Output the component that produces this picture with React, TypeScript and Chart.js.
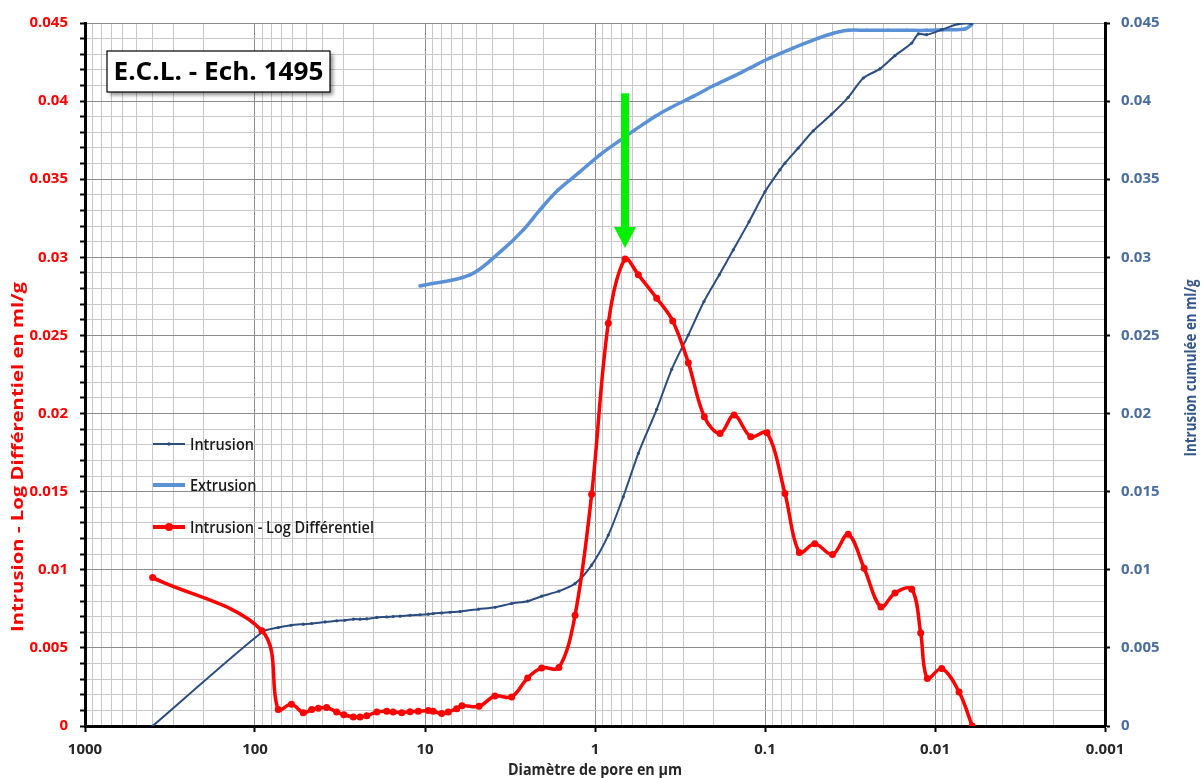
import React, { useEffect, useRef } from 'react';
import { Chart, registerables } from 'chart.js';
Chart.register(...registerables);

// ---------- DATA ----------
const X_DECADES = [1000, 100, 10, 1, 0.1, 0.01, 0.001];
const X_TICK_LABELS = ['1000', '100', '10', '1', '0.1', '0.01', '0.001'];
const Y_MIN = 0;
const Y_MAX = 0.045;
const Y_STEP = 0.001;
const Y_MAJOR_STEP = 0.005;

// Intrusion - Log Différentiel (left axis)
const RED_X = [400, 91, 73, 61, 52, 46.4, 42.4, 37.9, 33.1, 30.0, 26.4, 24.1, 22.0, 19.2, 16.8, 15.4, 13.7, 12.25, 10.95, 9.56, 8.94, 7.98, 7.3, 6.51, 6.06, 4.81, 3.88, 3.09, 2.49, 2.06, 1.63, 1.31, 1.046, 0.835, 0.666, 0.556, 0.4335, 0.349, 0.2826, 0.2275, 0.184, 0.152, 0.1213, 0.0973, 0.0763, 0.0628, 0.051, 0.0401, 0.0324, 0.0261, 0.0208, 0.0172, 0.0137, 0.01214, 0.0111, 0.00913, 0.00722, 0.00604];
const RED_Y = [0.0095, 0.0061, 0.00105, 0.0014, 0.00085, 0.00105, 0.00114, 0.00118, 0.0009, 0.00072, 0.00058, 0.00058, 0.00065, 0.0009, 0.00094, 0.0009, 0.00085, 0.00092, 0.00094, 0.00099, 0.00094, 0.0008, 0.0009, 0.00111, 0.0013, 0.00126, 0.00192, 0.00186, 0.00308, 0.00372, 0.00374, 0.00709, 0.01483, 0.02578, 0.0299, 0.02888, 0.02738, 0.02593, 0.02326, 0.0198, 0.01873, 0.0199, 0.01852, 0.01877, 0.01489, 0.0111, 0.01166, 0.01098, 0.01227, 0.0101, 0.00762, 0.00852, 0.00876, 0.00596, 0.00304, 0.00368, 0.00218, 0];

// Intrusion (cumulée, right axis)
const INTR_X = [400, 90.6, 72.9, 61.4, 52.0, 46.4, 38.7, 33.1, 29.6, 26.4, 24.1, 22.0, 19.2, 16.8, 15.4, 14.0, 12.25, 10.7, 9.56, 8.94, 7.98, 7.13, 6.22, 4.84, 3.87, 3.09, 2.49, 2.06, 1.63, 1.31, 1.046, 0.835, 0.682, 0.556, 0.4335, 0.354, 0.2826, 0.2286, 0.1857, 0.1536, 0.1242, 0.1, 0.0817, 0.0763, 0.0637, 0.052, 0.0405, 0.0324, 0.0264, 0.0211, 0.0172, 0.0137, 0.01253, 0.0112, 0.00913, 0.0073, 0.00608];
const INTR_Y = [0, 0.00602, 0.0063, 0.00645, 0.00652, 0.00656, 0.00666, 0.00673, 0.00677, 0.00684, 0.00684, 0.00686, 0.00695, 0.00698, 0.00701, 0.00703, 0.00709, 0.00712, 0.00716, 0.0072, 0.00724, 0.00728, 0.00733, 0.00748, 0.0076, 0.00784, 0.00799, 0.00831, 0.00863, 0.00912, 0.0103, 0.01222, 0.01467, 0.01745, 0.02027, 0.02283, 0.02503, 0.02717, 0.02888, 0.03048, 0.03227, 0.0342, 0.0356, 0.03603, 0.037, 0.0381, 0.03917, 0.04024, 0.04148, 0.04206, 0.04291, 0.04372, 0.0443, 0.04425, 0.04457, 0.04494, 0.04496];

// Extrusion (right axis)
const EXTR_X = [10.7, 5.43, 3.54, 2.64, 2.107, 1.644, 1.253, 0.935, 0.7296, 0.582, 0.4435, 0.362, 0.264, 0.2013, 0.1536, 0.1225, 0.0935, 0.0682, 0.0544, 0.0424, 0.0324, 0.0252, 0.01884, 0.01467, 0.0112, 0.00894, 0.00667, 0.00608];
const EXTR_Y = [0.02817, 0.02888, 0.03043, 0.03176, 0.03304, 0.03432, 0.03539, 0.03656, 0.03741, 0.03816, 0.03902, 0.03956, 0.0403, 0.04098, 0.04158, 0.04212, 0.04276, 0.0434, 0.04382, 0.04425, 0.04453, 0.04453, 0.04453, 0.04453, 0.04453, 0.04457, 0.04462, 0.0449];

const SERIES_NAMES = ['Intrusion', 'Extrusion', 'Intrusion - Log Différentiel'];
const CHART_TITLE = 'E.C.L. - Ech. 1495';
const X_TITLE = 'Diamètre de pore en µm';
const Y_LEFT_TITLE = 'Intrusion - Log Différentiel en ml/g';
const Y_RIGHT_TITLE = 'Intrusion cumulée en ml/g';
// green arrow pointing to the peak (x value, y from, y to)
const ARROW_X = 0.666;
const ARROW_Y_FROM = 0.0405;
const ARROW_Y_TO = 0.0306;

// ---------- STYLE ----------
const FONT = "'Open Sans', 'Liberation Sans', sans-serif";
const RED = '#FF0000';
const INTR_COLOR = '#2B4C80';
const EXTR_COLOR = '#5A91D6';
const RIGHT_COLOR = '#4A6D9F';
const GRID_MAJOR = '#8C8C8C';
const GRID_MINOR = '#C8C8C8';

const zip = (xs: number[], ys: number[]) => xs.map((x, i) => ({ x, y: ys[i] }));
const isDecade = (v: number) => { const l = Math.log10(v); return Math.abs(l - Math.round(l)) < 1e-6; };
const isYMajor = (v: number) => Math.abs(v / Y_MAJOR_STEP - Math.round(v / Y_MAJOR_STEP)) < 1e-6;

function xTickValues() {
  const vals: number[] = [];
  for (let i = X_DECADES.length - 1; i >= 1; i--) {
    const d = X_DECADES[i];
    for (let m = 1; m <= 9; m++) vals.push(parseFloat((m * d).toPrecision(4)));
  }
  vals.push(X_DECADES[0]);
  return vals;
}
function yTickValues() {
  const vals: number[] = [];
  const n = Math.round((Y_MAX - Y_MIN) / Y_STEP);
  for (let i = 0; i <= n; i++) vals.push(parseFloat((Y_MIN + i * Y_STEP).toFixed(4)));
  return vals;
}

// draw text at a given size, horizontally scaled to a target length (Calibri-like narrow look)
function drawText(
  ctx: CanvasRenderingContext2D, text: string, x: number, y: number,
  size: number, weight: string, color: string, target: number,
  align: CanvasTextAlign = 'center', rot = 0, scaleOverride?: number,
) {
  ctx.save();
  ctx.translate(x, y);
  if (rot) ctx.rotate(rot);
  ctx.font = `${weight} ${size}px ${FONT}`;
  const w = ctx.measureText(text).width;
  const sx = scaleOverride ?? target / w;
  ctx.scale(sx, 1);
  ctx.fillStyle = color;
  ctx.textAlign = align;
  ctx.textBaseline = 'middle';
  ctx.fillText(text, 0, 0);
  ctx.restore();
}

const decorPlugin = {
  id: 'decor',
  afterDatasetsDraw(chart: any) {
    const { ctx, chartArea: ca, scales } = chart;
    // green arrow
    const ax = scales.x.getPixelForValue(ARROW_X);
    const ay0 = scales.y.getPixelForValue(ARROW_Y_FROM);
    const ay1 = scales.y.getPixelForValue(ARROW_Y_TO);
    ctx.save();
    ctx.fillStyle = '#00F000';
    const headLen = 21, headW = 11, shaftW = 4;
    ctx.fillRect(ax - shaftW, ay0, shaftW * 2, ay1 - ay0 - headLen + 1);
    ctx.beginPath();
    ctx.moveTo(ax - headW, ay1 - headLen);
    ctx.lineTo(ax + headW, ay1 - headLen);
    ctx.lineTo(ax, ay1);
    ctx.closePath();
    ctx.fill();
    ctx.restore();

    // legend (inside plot)
    const lx0 = ca.left + 68, lx1 = ca.left + 100, tx = ca.left + 105;
    const rows = [ca.top + 421, ca.top + 462, ca.top + 504];
    const styles = [
      { color: INTR_COLOR, w: 2, r: 1.8 },
      { color: EXTR_COLOR, w: 4, r: 2 },
      { color: RED, w: 4, r: 4 },
    ];
    ctx.save();
    ctx.font = `600 16px ${FONT}`;
    const legScale = 184 / ctx.measureText(SERIES_NAMES[2]).width;
    ctx.restore();
    ctx.save();
    styles.forEach((s, i) => {
      const y = rows[i];
      ctx.strokeStyle = s.color;
      ctx.lineWidth = s.w;
      ctx.beginPath();
      ctx.moveTo(lx0, y);
      ctx.lineTo(lx1, y);
      ctx.stroke();
      ctx.fillStyle = s.color;
      ctx.beginPath();
      ctx.arc((lx0 + lx1) / 2, y, s.r, 0, Math.PI * 2);
      ctx.fill();
      drawText(ctx, SERIES_NAMES[i], tx, y + 1, 16, '600', '#1A1A1A', 0, 'left', 0, legScale);
    });
    ctx.restore();

    // title box
    const bx = ca.left + 22, by = ca.top + 28, bw = 223, bh = 41;
    ctx.save();
    ctx.shadowColor = 'rgba(0,0,0,0.45)';
    ctx.shadowBlur = 4;
    ctx.shadowOffsetX = 3;
    ctx.shadowOffsetY = 3;
    ctx.fillStyle = '#FFFFFF';
    ctx.fillRect(bx, by, bw, bh);
    ctx.restore();
    ctx.save();
    ctx.strokeStyle = '#000';
    ctx.lineWidth = 1.2;
    ctx.strokeRect(bx, by, bw, bh);
    ctx.restore();
    drawText(ctx, CHART_TITLE, bx + bw / 2, by + bh / 2 + 1, 25, 'bold', '#000', 210);
  },
  afterDraw(chart: any) {
    const { ctx, chartArea: ca } = chart;
    drawText(ctx, Y_LEFT_TITLE, ca.left - 67, ca.top + 434, 16.5, 'bold', RED, 350, 'center', -Math.PI / 2);
    drawText(ctx, Y_RIGHT_TITLE, ca.right + 87, ca.top + 345, 15.5, 'bold', '#34568B', 177, 'center', -Math.PI / 2);
    drawText(ctx, X_TITLE, (ca.left + ca.right) / 2, ca.bottom + 45, 15.5, 'bold', '#262626', 174);
  },
};

export default function App() {
  const ref = useRef<HTMLCanvasElement>(null);
  useEffect(() => {
    const yTicks = yTickValues();
    const xTicks = xTickValues();
    const chart = new Chart(ref.current as HTMLCanvasElement, {
      type: 'line',
      data: {
        datasets: [
          {
            label: SERIES_NAMES[2],
            data: zip(RED_X, RED_Y),
            yAxisID: 'y',
            borderColor: RED,
            backgroundColor: RED,
            borderWidth: 3.5,
            pointRadius: 3.5,
            pointBorderWidth: 0,
            tension: 0.35,
          },
          {
            label: SERIES_NAMES[0],
            data: zip(INTR_X, INTR_Y),
            yAxisID: 'y1',
            borderColor: INTR_COLOR,
            backgroundColor: INTR_COLOR,
            borderWidth: 2,
            pointRadius: 1.6,
            pointBorderWidth: 0,
            tension: 0.25,
          },
          {
            label: SERIES_NAMES[1],
            data: zip(EXTR_X, EXTR_Y),
            yAxisID: 'y1',
            borderColor: EXTR_COLOR,
            backgroundColor: EXTR_COLOR,
            borderWidth: 3.5,
            pointRadius: 1.8,
            pointBorderWidth: 0,
            tension: 0.35,
          },
        ],
      },
      options: {
        responsive: false,
        animation: false,
        devicePixelRatio: 1,
        layout: { padding: { top: 23, left: 0, right: 0, bottom: 0 } },
        plugins: { legend: { display: false }, tooltip: { enabled: false } },
        scales: {
          x: {
            type: 'logarithmic',
            reverse: true,
            min: X_DECADES[X_DECADES.length - 1],
            max: X_DECADES[0],
            afterBuildTicks: (scale: any) => { scale.ticks = xTicks.map((v) => ({ value: v, major: isDecade(v) })); },
            afterFit: (scale: any) => { scale.height = 52; },
            ticks: {
              autoSkip: false,
              maxRotation: 0,
              padding: 9,
              color: '#262626',
              font: { family: FONT, size: 15, weight: 'bold' },
              callback: (v: any) => {
                const i = X_DECADES.findIndex((d) => Math.abs(Math.log10(d) - Math.log10(Number(v))) < 1e-6);
                return i >= 0 ? X_TICK_LABELS[i] : '';
              },
            },
            grid: {
              color: (c: any) => (c.tick && isDecade(c.tick.value) ? GRID_MAJOR : GRID_MINOR),
              tickColor: (c: any) => (c.tick && isDecade(c.tick.value) ? '#000' : 'rgba(0,0,0,0)'),
              lineWidth: 1,
              tickLength: 6,
              tickWidth: 2,
            },
            border: { display: true, color: '#000', width: 3 },
          },
          y: {
            type: 'linear',
            position: 'left',
            min: Y_MIN,
            max: Y_MAX,
            afterBuildTicks: (scale: any) => { scale.ticks = yTicks.map((v) => ({ value: v })); },
            afterFit: (scale: any) => { scale.width = 85; },
            ticks: {
              autoSkip: false,
              padding: 12,
              color: RED,
              font: { family: FONT, size: 15, weight: 'bold' },
              callback: (v: any) => (isYMajor(Number(v)) ? String(parseFloat(Number(v).toFixed(3))) : ''),
            },
            grid: {
              color: (c: any) => (c.tick && isYMajor(c.tick.value) ? GRID_MAJOR : GRID_MINOR),
              tickColor: '#000',
              lineWidth: 1,
              tickLength: 5,
              tickWidth: 2,
            },
            border: { display: true, color: '#000', width: 3 },
          },
          y1: {
            type: 'linear',
            position: 'right',
            min: Y_MIN,
            max: Y_MAX,
            afterBuildTicks: (scale: any) => { scale.ticks = yTicks.map((v) => ({ value: v })); },
            afterFit: (scale: any) => { scale.width = 96; },
            ticks: {
              autoSkip: false,
              padding: 11,
              color: RIGHT_COLOR,
              font: { family: FONT, size: 15, weight: 'bold' },
              callback: (v: any) => (isYMajor(Number(v)) ? String(parseFloat(Number(v).toFixed(3))) : ''),
            },
            grid: {
              drawOnChartArea: false,
              tickColor: (c: any) => (c.tick && isYMajor(c.tick.value) ? '#000' : 'rgba(0,0,0,0)'),
              tickLength: 5,
              tickWidth: 2,
            },
            border: { display: true, color: '#000', width: 3 },
          },
        },
      },
      plugins: [decorPlugin],
    } as any);
    return () => chart.destroy();
  }, []);
  return (
    <div style={{ position: 'absolute', left: 0, top: 0, width: 1201, height: 778, background: '#fff' }}>
      <canvas ref={ref} width={1201} height={778} style={{ display: 'block' }} />
    </div>
  );
}
